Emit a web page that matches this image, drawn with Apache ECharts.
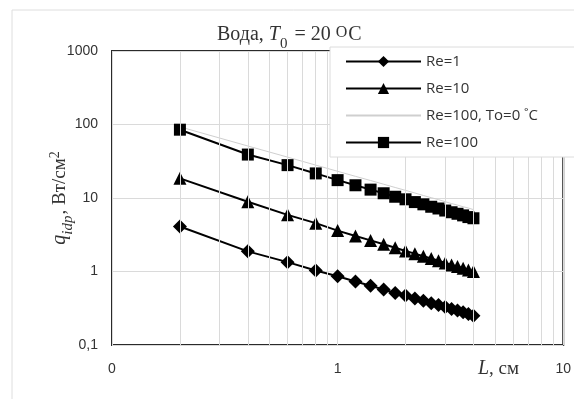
<!DOCTYPE html>
<html>
<head>
<meta charset="utf-8">
<script src="https://cdn.jsdelivr.net/npm/echarts@6/dist/echarts.min.js"></script>
<style>
  html, body { margin: 0; padding: 0; background: #fff; }
  #chart { width: 574px; height: 399px; }
</style>
</head>
<body>
<div id="chart"></div>
<script>
// длина L, см
const lengths = [0.2, 0.4, 0.6, 0.8, 1.0, 1.2, 1.4, 1.6, 1.8, 2.0, 2.2, 2.4, 2.6, 2.8, 3.0, 3.2, 3.4, 3.6, 3.8, 4.0];
// q_idp, Вт/см2
const re1 = [4.1, 1.88, 1.34, 1.03, 0.86, 0.73, 0.64, 0.57, 0.51, 0.47, 0.43, 0.40, 0.37, 0.35, 0.33, 0.31, 0.295, 0.28, 0.265, 0.25];
const re10 = [18.5, 8.9, 5.9, 4.55, 3.6, 3.04, 2.65, 2.35, 2.1, 1.9, 1.75, 1.61, 1.5, 1.4, 1.31, 1.23, 1.17, 1.11, 1.05, 1.0];
const re100T0 = [93, 51, 36, 28, 23.1, 19.7, 17.3, 15.4, 13.9, 12.7, 11.7, 10.8, 10.1, 9.5, 8.9, 8.4, 8.0, 7.6, 7.3, 6.95];
const re100 = [85, 39, 28, 21.6, 17.5, 14.9, 13.0, 11.6, 10.4, 9.6, 8.8, 8.2, 7.6, 7.2, 6.75, 6.4, 6.1, 5.8, 5.5, 5.3];
const seriesNames = ["Re=1", "Re=10", "Re=100, To=0 ˚C", "Re=100"];
// промежуточные линии сетки по оси X
const minorX = [0.2, 0.3, 0.4, 0.5, 0.6, 0.7, 0.8, 0.9, 2, 3, 4, 5, 6, 7, 8, 9];

const pairs = (ys) => lengths.map((x, i) => [x, ys[i]]);

const serif = "'Liberation Serif', 'DejaVu Serif', serif";
const sans = "'Liberation Sans', Arial, sans-serif";

const myChart = echarts.init(document.getElementById("chart"));

const option = {
  animation: false,
  backgroundColor: "#fff",
  title: {
    left: 212,
    top: 20,
    text: "{a|Вода, }{i|T}{sub|0}{a| = 20 }{sup|O}{a|C}",
    textStyle: {
      fontWeight: "normal",
      rich: {
        a: { fontFamily: serif, fontSize: 20, fontWeight: "normal", color: "#333", verticalAlign: "bottom", padding: [0, 0, 7, 0] },
        i: { fontFamily: serif, fontSize: 20, fontWeight: "normal", fontStyle: "italic", color: "#333", verticalAlign: "bottom", padding: [0, 0, 7, 0] },
        sub: { fontFamily: serif, fontSize: 15, fontWeight: "normal", color: "#333", verticalAlign: "bottom", padding: [0, 2, 0, 0] },
        sup: { fontFamily: serif, fontSize: 16, fontWeight: "normal", color: "#333", verticalAlign: "bottom", padding: [0, 1, 11, 0] },
      },
    },
  },
  legend: {
    data: seriesNames,
    orient: "vertical",
    left: 330,
    top: 47,
    padding: [7, 40, 7, 15],
    itemWidth: 75,
    itemHeight: 14,
    itemGap: 12,
    backgroundColor: "#fff",
    borderColor: "#dcdcdc",
    borderWidth: 1,
    textStyle: { fontFamily: "'Open Sans', sans-serif", fontSize: 15, color: "#333" },
    z: 10,
  },
  grid: {
    left: 112,
    right: 7,
    top: 51,
    bottom: 54,
    show: true,
    borderColor: "#2a2a2a",
    borderWidth: 2,
  },
  xAxis: {
    type: "log",
    logBase: 10,
    min: 0.1,
    max: 10,
    axisLine: { show: false },
    axisTick: { show: false },
    axisLabel: {
      margin: 17,
      fontFamily: sans,
      fontSize: 14,
      color: "#333",
      formatter: (v) => (v < 0.5 ? "0" : String(Math.round(v))),
    },
    splitLine: { show: true, lineStyle: { color: "#dadada", width: 1 } },
  },
  yAxis: {
    type: "log",
    logBase: 10,
    min: 0.1,
    max: 1000,
    axisLine: { show: false },
    axisTick: { show: false },
    axisLabel: {
      margin: 14,
      fontFamily: sans,
      fontSize: 14,
      color: "#333",
      formatter: (v) => (v < 0.5 ? "0,1" : String(Math.round(v))),
    },
    splitLine: { show: true, lineStyle: { color: "#dadada", width: 1 } },
    name: "{i|q}{sub|idp}{a|, Вт/см}{sup|2}",
    nameLocation: "middle",
    nameGap: 36,
    nameMoveOverlap: false,
    nameTextStyle: {
      rich: {
        a: { fontFamily: serif, fontSize: 19, color: "#333", verticalAlign: "bottom", padding: [0, 0, 6, 0] },
        i: { fontFamily: serif, fontSize: 20, fontStyle: "italic", color: "#333", verticalAlign: "bottom", padding: [0, 0, 6, 0] },
        sub: { fontFamily: serif, fontSize: 15, fontStyle: "italic", color: "#333", verticalAlign: "bottom", padding: [0, 1, 0, 0] },
        sup: { fontFamily: serif, fontSize: 14, color: "#333", verticalAlign: "bottom", padding: [0, 0, 14, 0] },
      },
    },
  },
  graphic: [
    {
      type: "rect",
      silent: true,
      shape: { x: 12, y: 10, width: 640, height: 440 },
      style: { fill: "none", stroke: "#dedede", lineWidth: 1 },
    },
    {
      type: "text",
      x: 478,
      y: 369,
      style: {
        text: "{i|L}{a|, см}",
        verticalAlign: "middle",
        rich: {
          i: { fontFamily: serif, fontSize: 20, fontStyle: "italic", fill: "#333" },
          a: { fontFamily: serif, fontSize: 19, fill: "#333" },
        },
      },
    },
  ],
  series: [
    {
      name: "grid-minor",
      type: "line",
      data: [],
      silent: true,
      z: 1,
      markLine: {
        silent: true,
        symbol: "none",
        label: { show: false },
        lineStyle: { color: "#dadada", width: 1, type: "solid" },
        data: minorX.map((v) => ({ xAxis: v })),
      },
    },
    {
      name: seriesNames[0],
      type: "line",
      data: pairs(re1),
      symbol: "diamond",
      symbolSize: 14,
      lineStyle: { color: "#000", width: 2 },
      itemStyle: { color: "#000" },
      z: 3,
    },
    {
      name: seriesNames[1],
      type: "line",
      data: pairs(re10),
      symbol: "triangle",
      symbolSize: 13,
      lineStyle: { color: "#000", width: 2 },
      itemStyle: { color: "#000" },
      z: 3,
    },
    {
      name: seriesNames[2],
      type: "line",
      data: pairs(re100T0),
      symbol: "none",
      lineStyle: { color: "#cfcfcf", width: 1 },
      itemStyle: { color: "rgba(0,0,0,0)" },
      z: 2,
    },
    {
      name: seriesNames[3],
      type: "line",
      data: pairs(re100),
      symbol: "rect",
      symbolSize: 12,
      lineStyle: { color: "#000", width: 2 },
      itemStyle: { color: "#000" },
      z: 3,
    },
  ],
};

myChart.setOption(option);

window.addEventListener("resize", () => {
  myChart.resize();
});
</script>
</body>
</html>
